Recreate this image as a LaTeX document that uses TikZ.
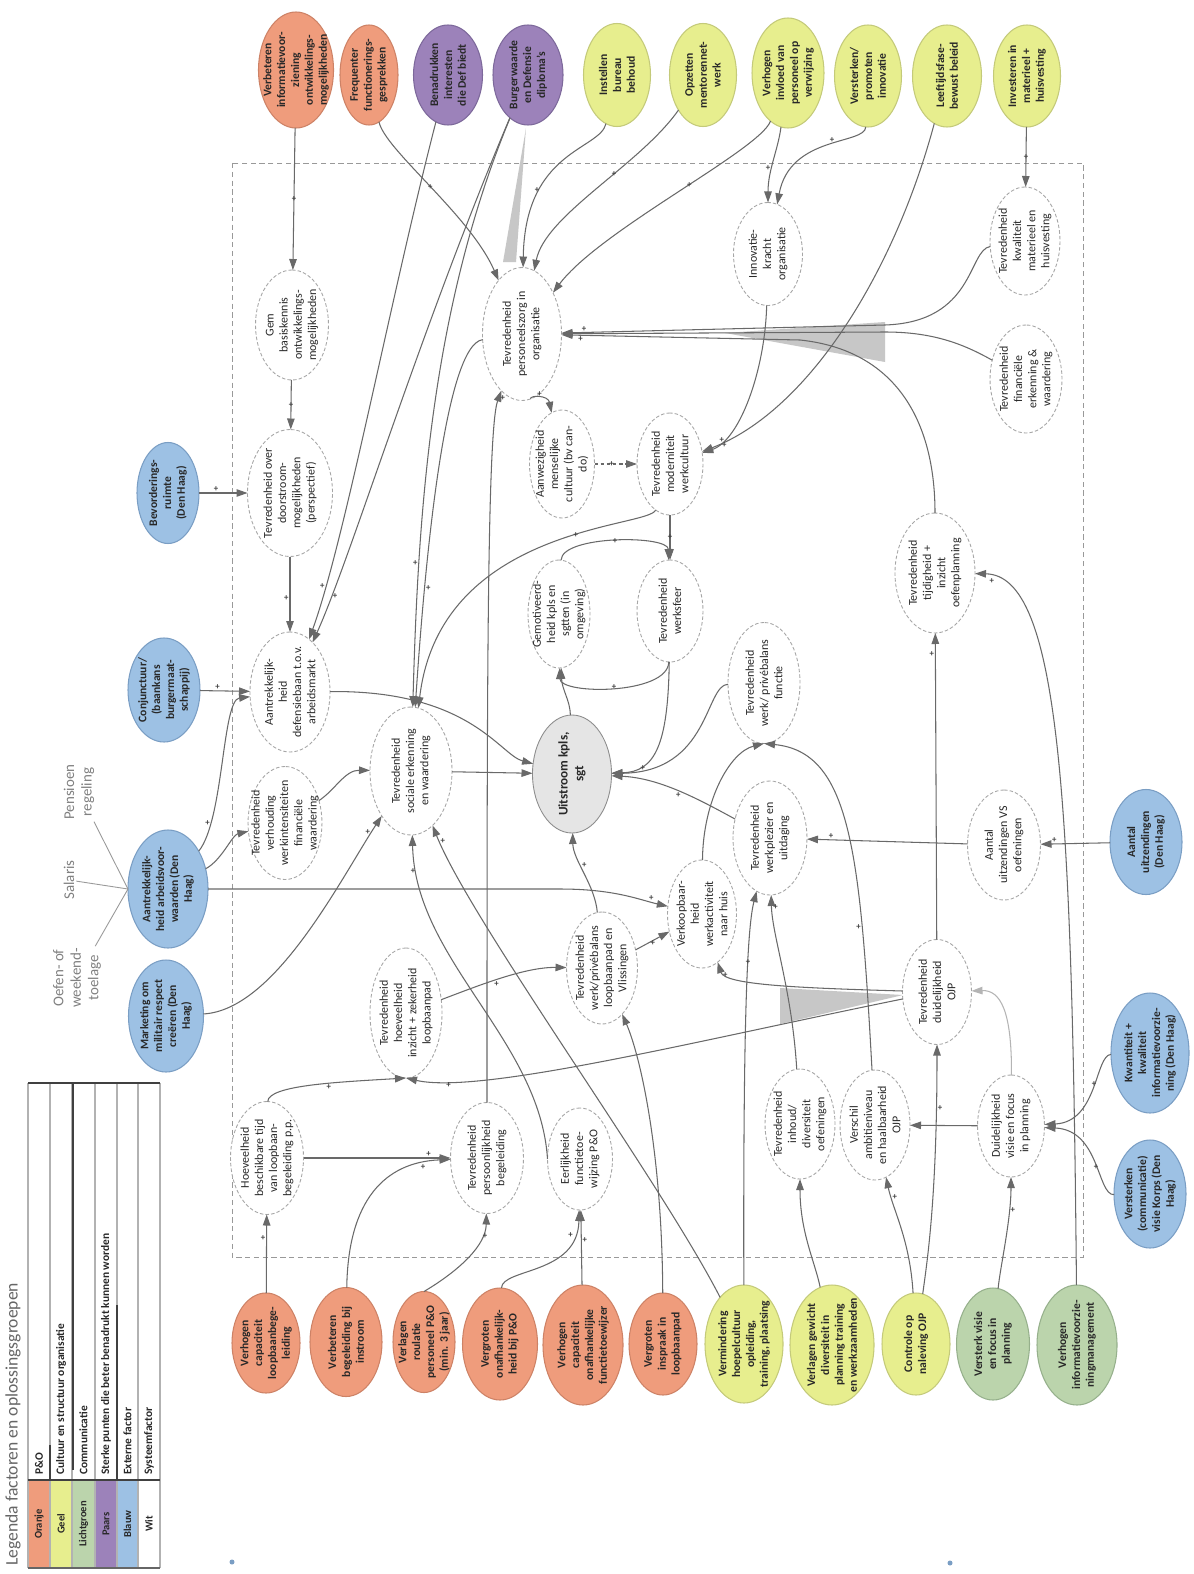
\documentclass[tikz,border=0pt]{standalone}
\usepackage{fontspec}
\setmainfont{Carlito}
\usepackage{tikz}
\usetikzlibrary{arrows.meta,shapes.geometric}

\definecolor{oranjeF}{RGB}{239,156,124}
\definecolor{oranjeD}{RGB}{205,130,102}
\definecolor{geelF}{RGB}{231,238,142}
\definecolor{geelD}{RGB}{196,202,122}
\definecolor{groenF}{RGB}{187,212,172}
\definecolor{groenD}{RGB}{150,176,140}
\definecolor{paarsF}{RGB}{156,130,186}
\definecolor{paarsD}{RGB}{125,105,155}
\definecolor{blauwF}{RGB}{157,193,228}
\definecolor{blauwD}{RGB}{122,158,196}
\definecolor{lijn}{RGB}{105,105,105}
\definecolor{tekst}{RGB}{40,40,40}

\tikzset{
  wh/.style 2 args={minimum height=#1*0.2mm, minimum width=#2*0.2mm},
  factor/.style={ellipse, rotate=90, inner xsep=-3mm, inner ysep=-1.5mm, outer sep=0pt, align=center, text=tekst, line width=0.6pt},
  oranje/.style={factor, fill=oranjeF, draw=oranjeD, font=\bfseries\fontsize{6.6}{7.9}\selectfont},
  geel/.style={factor, fill=geelF, draw=geelD, font=\bfseries\fontsize{6.6}{7.9}\selectfont},
  groen/.style={factor, fill=groenF, draw=groenD, font=\bfseries\fontsize{6.6}{7.9}\selectfont},
  paars/.style={factor, fill=paarsF, draw=paarsD, font=\bfseries\fontsize{6.6}{7.9}\selectfont},
  blauw/.style={factor, fill=blauwF, draw=blauwD, font=\bfseries\fontsize{6.6}{7.9}\selectfont},
  binnen/.style={factor, fill=white, draw=black!35, dash pattern=on 2pt off 1.2pt, line width=0.5pt, font=\fontsize{6.8}{8.1}\selectfont},
  link/.style={draw=lijn, line width=0.6pt, -{Triangle[length=2.2mm,width=1.5mm]}},
  draad/.style={draw=black!40, line width=0.5pt},
  losse/.style={rotate=90, align=center, inner sep=1pt, text=black!50, font=\fontsize{8.5}{10}\selectfont},
  sgn/.style={inner sep=0.5pt, text=black!75, font=\bfseries\fontsize{5}{5}\selectfont},
}

\begin{document}
\begin{tikzpicture}[x=0.2mm, y=-0.2mm]
\useasboundingbox (0,0) rectangle (1193,1574);
\fill[white] (0,0) rectangle (1193,1574);

% systeemgrens
\draw[black!40, line width=0.5pt, dash pattern=on 3pt off 2pt] (232,163) rectangle (1083,1257);

% legenda
\node[rotate=90, anchor=west, inner sep=0pt, text=black!60, font=\fontsize{10}{12}\selectfont] (legtitel) at (13,1566) {Legenda factoren en oplossingsgroepen};
\fill[oranjeF] (28,1480) rectangle (50,1568);
\fill[geelF] (50,1480) rectangle (72,1568);
\fill[groenF] (72,1480) rectangle (95,1568);
\fill[paarsF] (95,1480) rectangle (117,1568);
\fill[blauwF] (117,1480) rectangle (138,1568);
\foreach \x in {28,50,72,95,117,138,160}
  \draw[black!30, line width=0.8pt] (\x,1083) -- (\x,1568);
\draw[black!75, line width=1.2pt] (28,1083) -- (160,1083);
\draw[black!75, line width=1.2pt] (28,1480) -- (160,1480);
\draw[black!60, line width=1pt] (28,1568) -- (160,1568);
\draw[black!75, line width=1.2pt] (73,1083) -- (73,1470);
\draw[black!75, line width=1pt] (50,1445) -- (50,1480);
\draw[black!75, line width=1pt] (117,1305) -- (117,1480);
\foreach \x/\kl/\oms in {39/Oranje/P\&O, 61/Geel/Cultuur en structuur organisatie, 83.5/Lichtgroen/Communicatie, 106/Paars/Sterke punten die beter benadrukt kunnen worden, 127.5/Blauw/Externe factor, 149/Wit/Systeemfactor}{
  \node[rotate=90, inner sep=0pt, text=tekst, font=\bfseries\fontsize{6}{7}\selectfont] at (\x,1524) {\kl};
  \node[rotate=90, anchor=west, inner sep=0pt, text=tekst, font=\bfseries\fontsize{6.5}{7.5}\selectfont] at (\x,1475) {\oms};
}
\fill[blauwD] (232,1562) circle[radius=2.5];
\fill[blauwD] (950,1563) circle[radius=2.5];

% bovenste rij
\node[oranje, wh={75}{116}] (vinfo) at (296,70) {Verbeteren\\informatievoor-\\ziening\\ontwikkelings-\\mogelijkheden};
\node[oranje, wh={58}{100}] (ffg) at (369,75) {Frequenter\\functionerings-\\gesprekken};
\node[paars, wh={69}{100}] (bdi) at (448,75) {Benadrukken\\interesten\\die Def biedt};
\node[paars, wh={70}{100}] (bwd) at (528,75) {Burgerwaarde\\en Defensie\\diploma's};
\node[geel, wh={67}{103}] (ibb) at (617,75) {Instellen\\bureau\\behoud};
\node[geel, wh={67}{103}] (omn) at (703,75) {Opzetten\\mentorennet-\\werk};
\node[geel, wh={72}{110}] (vip) at (788,73) {Verhogen\\invloed van\\personeel op\\verwijzing};
\node[geel, wh={67}{102}] (vpi) at (868,76) {Versterken/\\promoten\\innovatie};
\node[geel, wh={69}{102}] (lfb) at (947,76) {Leeftijdsfase-\\bewust beleid};
\node[geel, wh={67}{102}] (imh) at (1027,76) {Investeren in\\materieel +\\huisvesting};

% links: externe factoren
\node[blauw, wh={62}{101}] (bev) at (168,493) {Bevorderings-\\ruimte\\(Den Haag)};
\node[blauw, wh={72}{104}] (con) at (164,690) {Conjunctuur/\\(baankans\\burgermaat-\\schappij)};
\node[blauw, wh={80}{118}] (aav) at (168,889) {Aantrekkelijk-\\heid arbeidsvoor-\\waarden (Den\\Haag)};
\node[blauw, wh={75}{112}] (mkt) at (166,1016) {Marketing om\\militair respect\\creëren (Den\\Haag)};
\node[losse] (pens) at (79,792) {Pensioen\\regeling};
\node[losse] (sal) at (69,880) {Salaris};
\node[losse] (oef) at (77,978) {Oefen- of\\weekend-\\toelage};

% binnen het systeem
\node[binnen, wh={73}{110}] (gbk) at (292,325) {Gem\\basiskennis\\ontwikkelings-\\mogelijkheden};
\node[binnen, wh={85}{127}] (tdm) at (290,493) {Tevredenheid over\\doorstroom-\\mogelijkheden\\(perspectief)};
\node[binnen, wh={80}{120}] (adb) at (290,692) {Aantrekkelijk-\\heid\\defensiebaan t.o.v.\\arbeidsmarkt};
\node[binnen, wh={70}{113}] (tvf) at (285,823) {Tevredenheid\\verhouding\\werkintensiteiten\\financiële\\waardering};
\node[binnen, wh={82}{128}] (tsw) at (411,771) {Tevredenheid\\sociale erkenning\\en waardering};
\node[binnen, wh={79}{133}] (tpo) at (522,334) {Tevredenheid\\personeelszorg in\\organisatie};
\node[binnen, wh={69}{103}] (iko) at (768,254) {Innovatie-\\kracht\\organisatie};
\node[binnen, wh={70}{108}] (tkm) at (1025,241) {Tevredenheid\\kwaliteit\\materieel en\\huisvesting};
\node[binnen, wh={72}{108}] (tfe) at (1026,379) {Tevredenheid\\financiële\\erkenning \&\\waardering};
\node[binnen, wh={65}{108}] (amc) at (562,464) {Aanwezigheid\\menselijke\\cultuur (bv can-\\do)};
\node[binnen, wh={66}{102}] (tmw) at (670,464) {Tevredenheid\\moderniteit\\werkcultuur};
\node[binnen, wh={62}{108}] (gkm) at (559,614) {Gemotiveerd-\\heid kpls en\\sgtten (in\\omgeving)};
\node[binnen, wh={66}{102}] (tws) at (670,611) {Tevredenheid\\werksfeer};
\node[binnen, wh={72}{121}] (twf) at (764,683) {Tevredenheid\\werk/ privébalans\\functie};
\node[binnen, fill=black!10, draw=black!45, solid, font=\bfseries\fontsize{7.5}{9}\selectfont, wh={79}{118}] (uit) at (572,774) {Uitstroom kpls,\\sgt};
\node[binnen, wh={80}{120}] (tto) at (935,573) {Tevredenheid\\tijdigheid +\\inzicht\\oefenplanning};
\node[binnen, wh={73}{110}] (auo) at (1004,845) {Aantal\\uitzendingen VS\\oefeningen};
\node[binnen, wh={74}{114}] (twu) at (770,838) {Tevredenheid\\werkplezier en\\uitdaging};
\node[binnen, wh={69}{108}] (vkb) at (702,914) {Verkoopbaar-\\heid\\werkactiviteit\\naar huis};
\node[binnen, wh={71}{112}] (twl) at (602,968) {Tevredenheid\\werk/privébalans\\loopbaanpad en\\Vlissingen};
\node[binnen, wh={72}{130}] (thi) at (406,1013) {Tevredenheid\\hoeveelheid\\inzicht + zekerheid\\loopbaanpad};
\node[binnen, wh={73}{113}] (hbt) at (267,1158) {Hoeveelheid\\beschikbare tijd\\van loopbaan-\\begeleiding p.p.};
\node[binnen, wh={73}{111}] (tpb) at (487,1158) {Tevredenheid\\persoonlijkheid\\begeleiding};
\node[binnen, wh={65}{102}] (efw) at (580,1159) {Eerlijkheid\\functietoe-\\wijzing P\&O};
\node[binnen, wh={70}{110}] (tio) at (800,1124) {Tevredenheid\\inhoud/\\diversiteit\\oefeningen};
\node[binnen, wh={70}{110}] (vah) at (875,1125) {Verschil\\ambitieniveau\\en haalbaarheid\\OJP};
\node[binnen, wh={67}{102}] (dvf) at (1011,1126) {Duidelijkheid\\visie en focus\\in planning};
\node[binnen, wh={69}{105}] (tdo) at (937,992) {Tevredenheid\\duidelijkheid\\OJP};

% rechts: externe factoren
\node[blauw, wh={72}{105}] (aud) at (1146,842) {Aantal\\uitzendingen\\(Den Haag)};
\node[blauw, wh={78}{120}] (kki) at (1150,1053) {Kwantiteit +\\kwaliteit\\informatievoorzie-\\ning (Den Haag)};
\node[blauw, wh={72}{108}] (vck) at (1150,1194) {Versterken\\(communicatie)\\visie Korps (Den\\Haag)};

% onderste rij
\node[oranje, wh={68}{100}] (vcl) at (266,1343) {Verhogen\\capaciteit\\loopbaanbege-\\leiding};
\node[oranje, wh={72}{109}] (vbi) at (346,1342) {Verbeteren\\begeleiding bij\\instroom};
\node[oranje, wh={62}{101}] (vrp) at (424,1342) {Verlagen\\roulatie\\personeel P\&O\\(min. 3 jaar)};
\node[oranje, wh={75}{112}] (vop) at (500,1344) {Vergroten\\onafhankelijk-\\heid bij P\&O};
\node[oranje, wh={80}{120}] (vco) at (583,1345) {Verhogen\\capaciteit\\onafhankelijke\\functietoewijzer};
\node[oranje, wh={68}{102}] (vil) at (663,1344) {Vergroten\\inspraak in\\loopbaanpad};
\node[geel, wh={78}{118}] (vhc) at (744,1344) {Vermindering\\hoepelcultuur\\opleiding,\\training, plaatsing};
\node[geel, wh={84}{120}] (vgd) at (832,1345) {Verlagen gewicht\\diversiteit in\\planning training\\en werkzaamheden};
\node[geel, wh={68}{102}] (cno) at (916,1344) {Controle op\\naleving OJP};
\node[groen, wh={73}{112}] (vvf) at (993,1344) {Versterk visie\\en focus in\\planning};
\node[groen, wh={80}{120}] (vim) at (1077,1345) {Verhogen\\informatievoorzie-\\ningmanagement};

% grijze bundels
\fill[black!22] (725,333) -- (885,322) -- (885,362) -- cycle;
\fill[black!22] (780,988) -- (903,995) -- (780,1024) -- cycle;
\fill[black!22] (526,128) -- (503,262) -- (516,262) -- cycle;

% verbindingen bovenkant
\draw[link] (vinfo) -- node[sgn,pos=0.5]{+} (gbk);
\draw[link] (gbk) -- node[sgn,pos=0.5]{+} (tdm);
\draw[link] (tdm) -- node[sgn,pos=0.55,left]{+} (adb);
\draw[link] (bev) -- node[sgn,pos=0.35,above]{+} (tdm);
\draw[link] (con) -- node[sgn,pos=0.35,above]{+} (adb);
\draw[link] (ffg) .. controls (385,150) and (470,215) .. node[sgn,pos=0.5]{+} (tpo);
\draw[link] (ibb) .. controls (600,150) and (525,150) .. node[sgn,pos=0.7,left]{+} (tpo);
\draw[link] (omn) .. controls (640,165) and (545,215) .. node[sgn,pos=0.4]{+} (tpo);
\draw[link] (vip) .. controls (760,150) and (600,230) .. node[sgn,pos=0.45]{+} (tpo);
\draw[link] (vip) .. controls (778,150) and (768,170) .. node[sgn,pos=0.6,left]{+} (iko);
\draw[link] (vpi) .. controls (865,145) and (790,135) .. node[sgn,pos=0.45,above]{+} (iko);
\draw[link] (imh) -- node[sgn,pos=0.5]{+} (tkm);
\draw[link] (iko) .. controls (765,370) and (740,440) .. node[sgn,pos=0.85,above right]{+} (tmw);
\draw[link] (lfb) .. controls (895,270) and (810,410) .. node[sgn,pos=0.93,below]{+} (tmw);
\draw[link] (tkm) .. controls (968,250) and (975,322) .. (885,325) -- node[sgn,pos=0.93,above]{+} (tpo);
\draw[link] (tfe) .. controls (965,345) and (935,332) .. (885,332) -- (tpo);
\draw[link] (tto) .. controls (935,420) and (895,350) .. (800,340) -- node[sgn,pos=0.92,below]{+} (tpo);
\draw[link] (bdi) .. controls (390,300) and (345,540) .. node[sgn,pos=0.85,left]{+} (adb);
\draw[link] (bwd) .. controls (420,330) and (350,560) .. node[sgn,pos=0.85,right]{+} (adb);
\draw[link] (bwd) .. controls (430,310) and (418,520) .. node[sgn,pos=0.75,left]{+} (tsw);
\draw[link] (tpo) .. controls (445,345) and (425,560) .. node[sgn,pos=0.75,right]{+} (tsw);
\draw[link] (tpb) .. controls (487,700) and (487,430) .. node[sgn,pos=0.95,right]{+} (tpo);
\draw[link] (tpo) .. controls (530,395) and (548,395) .. node[sgn,pos=0.5,above]{+} (amc);

% midden
\draw[link, dash pattern=on 2pt off 1.5pt] (amc) -- node[sgn,pos=0.4]{+} (tmw);
\draw[link] (tmw) -- node[sgn,pos=0.5]{+} (tws);
\draw[link] (gkm) .. controls (562,535) and (668,535) .. node[sgn,pos=0.5]{+} (tws);
\draw[link] (tws) .. controls (668,695) and (560,695) .. node[sgn,pos=0.5]{+} (gkm);
\draw[link] (uit) .. controls (570,700) and (562,690) .. (gkm);
\draw[link] (tws) .. controls (668,745) and (655,772) .. node[sgn,pos=0.7,below]{+} (uit);
\draw[link] (tmw) .. controls (650,528) and (440,525) .. node[sgn,pos=0.4]{+} (tsw);
\draw[link] (tsw) -- (uit);
\draw[link] (adb) .. controls (470,690) and (500,755) .. (uit);
\draw[link] (twf) .. controls (705,685) and (710,772) .. (uit);
\draw[link] (twu) .. controls (700,800) and (660,778) .. node[sgn,pos=0.5,below]{+} (uit);
\draw[link] (vkb) .. controls (703,800) and (730,752) .. (twf.west);
\draw[link] (vah) .. controls (860,850) and (850,752) .. node[sgn,pos=0.25,left]{+} (twf.west);
\draw[link] (twl) .. controls (595,885) and (573,860) .. node[sgn,pos=0.6,right]{+} (uit);
\draw[link] (twl) -- node[sgn,pos=0.4,right]{+} (vkb);
\draw[link] (aav) -- (560,889) .. controls (615,889) and (640,900) .. node[sgn,pos=0.8,above]{+} (vkb);
\draw[link] (aav) .. controls (224,820) and (222,700) .. node[sgn,pos=0.2,left]{+} (adb);
\draw[link] (aav) .. controls (222,860) and (232,835) .. (tvf);
\draw[link] (tvf) .. controls (335,790) and (345,770) .. (tsw);
\draw[link] (mkt) .. controls (275,1010) and (340,880) .. node[sgn,pos=0.92,left]{+} (tsw);
\draw[link] (vhc) .. controls (660,1180) and (470,920) .. node[sgn,pos=0.95,right]{+} (tsw);
\draw[link] (efw.north) .. controls (540,1040) and (415,960) .. node[sgn,pos=0.9,left]{+} (tsw);
\draw[draad] (pens) -- (aav.north);
\draw[draad] (sal) -- (aav.north);
\draw[draad] (oef) -- (aav.north);

% onderkant
\draw[link] (hbt) -- node[sgn,pos=0.85,above]{+} (tpb);
\draw[link] (vbi) .. controls (348,1200) and (385,1162) .. node[sgn,pos=0.85,below]{+} (tpb);
\draw[link] (hbt) .. controls (268,1085) and (340,1082) .. node[sgn,pos=0.6,below]{+} (thi.west);
\draw[link] (tdo) .. controls (700,1040) and (480,1095) .. node[sgn,pos=0.85,below]{+} (thi.west);
\draw[link] (tdo) .. controls (800,988) and (725,985) .. node[sgn,pos=0.85,below]{+} (vkb);
\draw[link] (thi) .. controls (480,985) and (525,967) .. node[sgn,pos=0.45,below]{+} (twl);
\draw[link] (vcl) -- node[sgn,pos=0.7,left]{+} (hbt);
\draw[link] (vrp.east) .. controls (460,1270) and (486,1245) .. node[sgn,pos=0.75,right]{+} (tpb);
\draw[link] (vop) .. controls (502,1268) and (578,1275) .. node[sgn,pos=0.85,left]{+} (efw);
\draw[link] (vco) -- node[sgn,pos=0.6,right]{+} (efw);
\draw[link] (vil) .. controls (662,1150) and (640,1055) .. (twl);
\draw[link] (vhc) .. controls (743,1000) and (748,925) .. node[sgn,pos=0.6]{+} (twu);
\draw[link] (tio) .. controls (792,990) and (772,935) .. node[sgn,pos=0.9,right]{+} (twu);
\draw[link] (vgd) .. controls (815,1262) and (800,1232) .. (tio);
\draw[link] (cno) .. controls (927,1262) and (937,1200) .. node[sgn,pos=0.85,right]{+} (tdo);
\draw[link] (cno) .. controls (910,1240) and (893,1210) .. node[sgn,pos=0.8,right]{+} (vah);
\draw[link] (tdo) -- node[sgn,pos=0.93,left]{+} (tto);
\draw[link] (vim) .. controls (1072,800) and (1060,575) .. node[sgn,pos=0.93,below]{+} (tto);
\draw[link, draw=lijn!50] (dvf) .. controls (1012,1010) and (1000,990) .. (tdo);
\draw[link] (dvf) -- (vah);
\draw[link] (vvf) .. controls (1000,1268) and (1011,1220) .. node[sgn,pos=0.75,right]{+} (dvf);
\draw[link] (kki) .. controls (1095,1055) and (1098,1122) .. node[sgn,pos=0.45]{+} (dvf);
\draw[link] (vck) .. controls (1097,1195) and (1100,1130) .. node[sgn,pos=0.45]{+} (dvf);
\draw[link] (aud) -- node[sgn,pos=0.8,above]{+} (auo);
\draw[link] (auo) -- node[sgn,pos=0.85,above]{+} (twu);
\end{tikzpicture}
\end{document}
